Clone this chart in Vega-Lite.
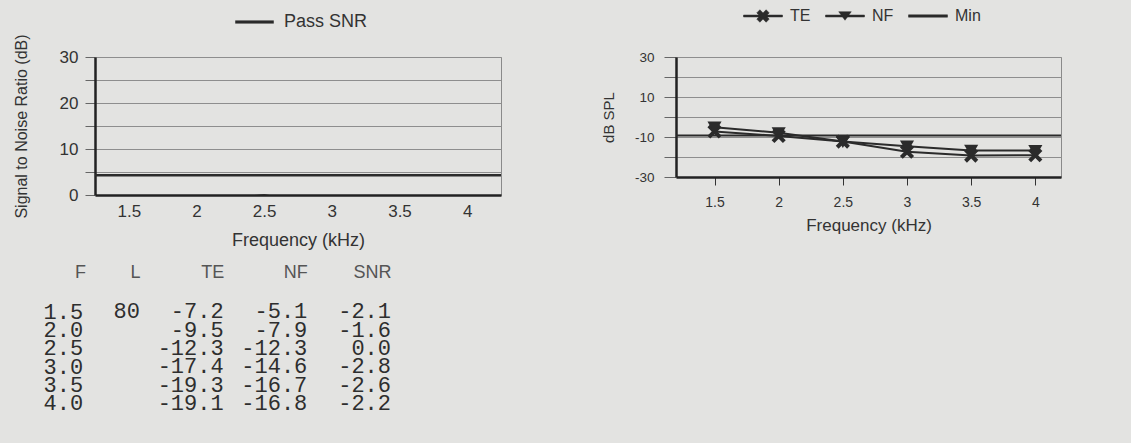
{
  "$schema": "https://vega.github.io/schema/vega-lite/v6.json",
  "background": "#e3e3e1",
  "padding": {"left": 12, "top": 7, "right": 68, "bottom": 31},
  "config": {
    "locale": {"number": {"decimal": ".", "thousands": ",", "grouping": [3], "currency": ["$", ""], "minus": "-"}},
    "font": "Liberation Sans",
    "view": {"stroke": "#8a8a8a", "strokeWidth": 1},
    "axis": {"labelColor": "#333333", "titleColor": "#333333", "titleFontWeight": "normal", "domainColor": "#222222", "domainWidth": 2.5, "tickColor": "#666666", "gridColor": "#8e8e8e", "gridWidth": 1, "labelOverlap": false},
    "legend": {"labelColor": "#333333"}
  },
  "datasets": {
    "readings": [
      {"F": 1.5, "L": 80, "TE": -7.2, "NF": -5.1, "SNR": -2.1},
      {"F": 2.0, "L": null, "TE": -9.5, "NF": -7.9, "SNR": -1.6},
      {"F": 2.5, "L": null, "TE": -12.3, "NF": -12.3, "SNR": 0.0},
      {"F": 3.0, "L": null, "TE": -17.4, "NF": -14.6, "SNR": -2.8},
      {"F": 3.5, "L": null, "TE": -19.3, "NF": -16.7, "SNR": -2.6},
      {"F": 4.0, "L": null, "TE": -19.1, "NF": -16.8, "SNR": -2.2}
    ]
  },
  "columns": 2,
  "bounds": "flush",
  "align": "all",
  "spacing": {"row": 107, "column": 175},
  "resolve": {"scale": {"color": "independent", "shape": "independent"}, "legend": {"color": "independent"}},
  "concat": [
    {
      "width": 406,
      "height": 138,
      "layer": [
        {
          "data": {"name": "readings"},
          "mark": {"type": "line", "clip": true, "color": "#2b2b2b", "strokeWidth": 2},
          "encoding": {
            "x": {"field": "F", "type": "quantitative", "scale": {"domain": [1.25, 4.25], "nice": false, "zero": false}, "title": "Frequency (kHz)",
              "axis": {"values": [1.5, 2, 2.5, 3, 3.5, 4], "format": "~g", "grid": false, "ticks": false, "labelPadding": 8, "labelFontSize": 17, "titleFontSize": 18, "titlePadding": 12}},
            "y": {"field": "SNR", "type": "quantitative", "scale": {"domain": [0, 30], "nice": false}, "title": "Signal to Noise Ratio (dB)",
              "axis": {"tickCount": 7, "labelExpr": "datum.value % 10 === 0 ? datum.label : ''", "tickSize": 10, "labelPadding": 7, "labelFontSize": 17, "titleFontSize": 16, "titlePadding": 30, "grid": true}}
          }
        },
        {
          "data": {"values": [{"series": "Pass SNR", "value": 4.3}]},
          "mark": {"type": "rule", "strokeWidth": 2.5},
          "encoding": {
            "y": {"field": "value", "type": "quantitative", "title": "Signal to Noise Ratio (dB)"},
            "color": {"field": "series", "type": "nominal", "scale": {"domain": ["Pass SNR"], "range": ["#2b2b2b"]},
              "legend": {"orient": "none", "legendX": 140, "legendY": -44, "title": null, "direction": "horizontal", "labelFontSize": 18, "symbolSize": 1444, "clipHeight": 18, "labelOffset": 10,
                "encode": {"symbols": {"update": {"shape": {"value": "M-1,-0.07H1V0.07H-1Z"}, "fill": {"value": "#2b2b2b"}, "stroke": {"value": "#2b2b2b"}, "strokeWidth": {"value": 0.5}, "opacity": {"value": 1}}}}}}
          }
        }
      ]
    },
    {
      "width": 385,
      "height": 120,
      "layer": [
        {
          "data": {"name": "readings"},
          "transform": [{"fold": ["TE", "NF"], "as": ["series", "db"]}],
          "mark": {"type": "line", "strokeWidth": 2},
          "encoding": {
            "x": {"field": "F", "type": "quantitative", "scale": {"domain": [1.2, 4.2], "nice": false, "zero": false}, "title": "Frequency (kHz)",
              "axis": {"values": [1.5, 2, 2.5, 3, 3.5, 4], "format": "~g", "grid": false, "ticks": true, "tickSize": 8, "tickColor": "#333333", "labelPadding": 10, "labelFontSize": 14, "titleFontSize": 17, "titlePadding": 8}},
            "y": {"field": "db", "type": "quantitative", "scale": {"domain": [-30, 30], "nice": false}, "title": "dB SPL",
              "axis": {"tickCount": 6, "labelExpr": "(datum.value + 30) % 20 === 0 ? datum.label : ''", "tickSize": 12, "labelPadding": 10, "labelFontSize": 13.5, "titleFontSize": 15, "titlePadding": 18, "grid": true}},
            "color": {"field": "series", "type": "nominal", "scale": {"domain": ["TE", "NF", "Min"], "range": ["#2b2b2b", "#2b2b2b", "#2b2b2b"]},
              "legend": {"orient": "none", "legendX": 67, "legendY": -49, "title": null, "direction": "horizontal", "labelFontSize": 16, "symbolSize": 1521, "clipHeight": 16, "labelOffset": 7, "columnPadding": 14,
                "encode": {"symbols": {"update": {
                  "shape": {"signal": "datum.value === 'TE' ? 'M-1,-0.05H1V0.05H-1ZM-0.32,-0.16L-0.16,-0.32L0.32,0.16L0.16,0.32ZM-0.32,0.16L0.16,-0.32L0.32,-0.16L-0.16,0.32Z' : datum.value === 'NF' ? 'M-1,-0.05H1V0.05H-1ZM-0.32,-0.22L0.32,-0.22L0,0.22Z' : 'M-1,-0.06H1V0.06H-1Z'"},
                  "fill": {"value": "#2b2b2b"}, "stroke": {"value": "#2b2b2b"}, "strokeWidth": {"value": 0.5}, "opacity": {"value": 1}}}}}}
          }
        },
        {
          "data": {"name": "readings"},
          "transform": [{"fold": ["TE", "NF"], "as": ["series", "db"]}],
          "mark": {"type": "point", "filled": true, "opacity": 1, "size": 200},
          "encoding": {
            "x": {"field": "F", "type": "quantitative"},
            "y": {"field": "db", "type": "quantitative"},
            "color": {"field": "series", "type": "nominal"},
            "shape": {"field": "series", "type": "nominal", "scale": {"domain": ["TE", "NF"], "range": ["M-1,-0.6L-0.6,-1L0,-0.4L0.6,-1L1,-0.6L0.4,0L1,0.6L0.6,1L0,0.4L-0.6,1L-1,0.6L-0.4,0Z", "M-1,-0.8L1,-0.8L0,0.9Z"]}, "legend": null}
          }
        },
        {
          "data": {"values": [{"series": "Min", "db": -9.3}]},
          "mark": {"type": "rule", "strokeWidth": 2},
          "encoding": {
            "y": {"field": "db", "type": "quantitative"},
            "color": {"field": "series", "type": "nominal"}
          }
        }
      ]
    },
    {
      "width": 341,
      "height": 110,
      "view": {"stroke": null},
      "data": {"name": "readings"},
      "encoding": {
        "y": {"field": "F", "type": "ordinal", "scale": {"type": "point", "padding": 0.5}, "title": "F",
          "axis": {"domain": false, "ticks": false, "grid": false, "labelAlign": "left", "labelBaseline": "middle", "labelPadding": 52, "labelFont": "Liberation Mono", "labelFontSize": 22, "labelColor": "#2e2e2e", "labelExpr": "format(datum.value, '.1f')",
            "titleAngle": 0, "titleX": -15, "titleY": -21, "titleAlign": "center", "titleBaseline": "bottom", "titleFontSize": 18, "titleColor": "#555555"}}
      },
      "layer": [
        {
          "transform": [{"filter": "isValid(datum.L)"}],
          "mark": {"type": "text", "align": "right", "baseline": "middle", "font": "Liberation Mono", "fontSize": 22, "color": "#2e2e2e"},
          "encoding": {
            "x": {"datum": "L", "type": "nominal", "scale": {"type": "point", "domain": ["L", "TE", "NF", "SNR"], "padding": 0.538},
              "axis": {"orient": "top", "title": null, "domain": false, "ticks": false, "grid": false, "labelAlign": "right", "labelBaseline": "bottom", "labelPadding": 21, "labelFontSize": 18, "labelAngle": 0, "labelColor": "#555555"}},
            "text": {"field": "L", "type": "quantitative", "format": "d"}
          }
        },
        {
          "mark": {"type": "text", "align": "right", "baseline": "middle", "font": "Liberation Mono", "fontSize": 22, "color": "#2e2e2e"},
          "encoding": {
            "x": {"datum": "TE", "type": "nominal"},
            "text": {"field": "TE", "type": "quantitative", "format": ".1f"}
          }
        },
        {
          "mark": {"type": "text", "align": "right", "baseline": "middle", "font": "Liberation Mono", "fontSize": 22, "color": "#2e2e2e"},
          "encoding": {
            "x": {"datum": "NF", "type": "nominal"},
            "text": {"field": "NF", "type": "quantitative", "format": ".1f"}
          }
        },
        {
          "mark": {"type": "text", "align": "right", "baseline": "middle", "font": "Liberation Mono", "fontSize": 22, "color": "#2e2e2e"},
          "encoding": {
            "x": {"datum": "SNR", "type": "nominal"},
            "text": {"field": "SNR", "type": "quantitative", "format": ".1f"}
          }
        }
      ]
    }
  ]
}
